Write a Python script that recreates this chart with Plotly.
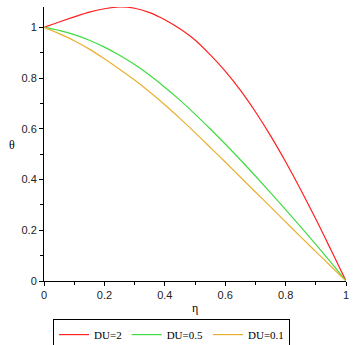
import plotly.graph_objects as go

eta = [0.0, 0.05, 0.1, 0.15, 0.2, 0.25, 0.3, 0.35, 0.4, 0.45, 0.5,
       0.55, 0.6, 0.65, 0.7, 0.75, 0.8, 0.85, 0.9, 0.95, 1.0]

theta_du2 = [1.000, 1.021, 1.041, 1.060, 1.073, 1.080, 1.075, 1.058, 1.030, 0.994, 0.950,
             0.892, 0.827, 0.752, 0.667, 0.573, 0.470, 0.360, 0.244, 0.123, 0.0]
theta_du05 = [1.000, 0.988, 0.971, 0.949, 0.922, 0.890, 0.853, 0.811, 0.764, 0.713, 0.658,
              0.600, 0.540, 0.478, 0.414, 0.348, 0.281, 0.213, 0.144, 0.073, 0.0]
theta_du01 = [1.000, 0.975, 0.947, 0.914, 0.876, 0.835, 0.792, 0.745, 0.695, 0.641, 0.585,
              0.527, 0.469, 0.410, 0.351, 0.292, 0.233, 0.174, 0.116, 0.058, 0.0]

series = [
    ("DU=2", theta_du2, "#ff2020"),
    ("DU=0.5", theta_du05, "#3fdc3f"),
    ("DU=0.1", theta_du01, "#e8b030"),
]

fig = go.Figure()
for name, vals, col in series:
    fig.add_trace(go.Scatter(x=eta, y=vals, mode="lines", name=name,
                             line=dict(color=col, width=1.2, shape="spline", smoothing=1.0)))

tickfont = dict(family="Liberation Sans, Arial, sans-serif", size=11, color="#222")

fig.update_layout(
    width=355, height=345,
    margin=dict(l=44, r=9, t=7, b=64, autoexpand=False),
    paper_bgcolor="white", plot_bgcolor="white",
    showlegend=True,
    legend=dict(orientation="h", x=0.03, xanchor="left", y=-0.139, yanchor="top",
                bordercolor="black", borderwidth=1,
                font=dict(family="Liberation Serif, Times New Roman, serif", size=11, color="black"),
                itemwidth=30, tracegroupgap=0),
    xaxis=dict(range=[0, 1], dtick=0.2, tick0=0, showgrid=False, zeroline=False,
               showline=True, linecolor="black", linewidth=1, automargin=False,
               ticks="outside", ticklen=4, tickcolor="black", tickfont=tickfont,
               minor=dict(dtick=0.1, ticks="outside", ticklen=3, tickcolor="black")),
    yaxis=dict(range=[0, 1.08], dtick=0.2, tick0=0, showgrid=False, zeroline=False,
               showline=True, linecolor="black", linewidth=1, automargin=False,
               ticks="outside", ticklen=4, tickcolor="black", tickfont=tickfont,
               minor=dict(dtick=0.1, ticks="outside", ticklen=3, tickcolor="black")),
    annotations=[
        dict(text="η", xref="paper", yref="paper", x=0.5, y=-0.1, xanchor="center", yanchor="middle",
             showarrow=False, font=dict(family="Liberation Serif, serif", size=12, color="black")),
        dict(text="θ", xref="paper", yref="paper", x=-0.105, y=0.497, xanchor="center", yanchor="middle",
             showarrow=False, font=dict(family="Liberation Serif, serif", size=12, color="black")),
    ],
)

fig.write_html("out.html", config={"displayModeBar": False},
               post_script="document.body.style.margin='0';document.body.style.padding='0';")
